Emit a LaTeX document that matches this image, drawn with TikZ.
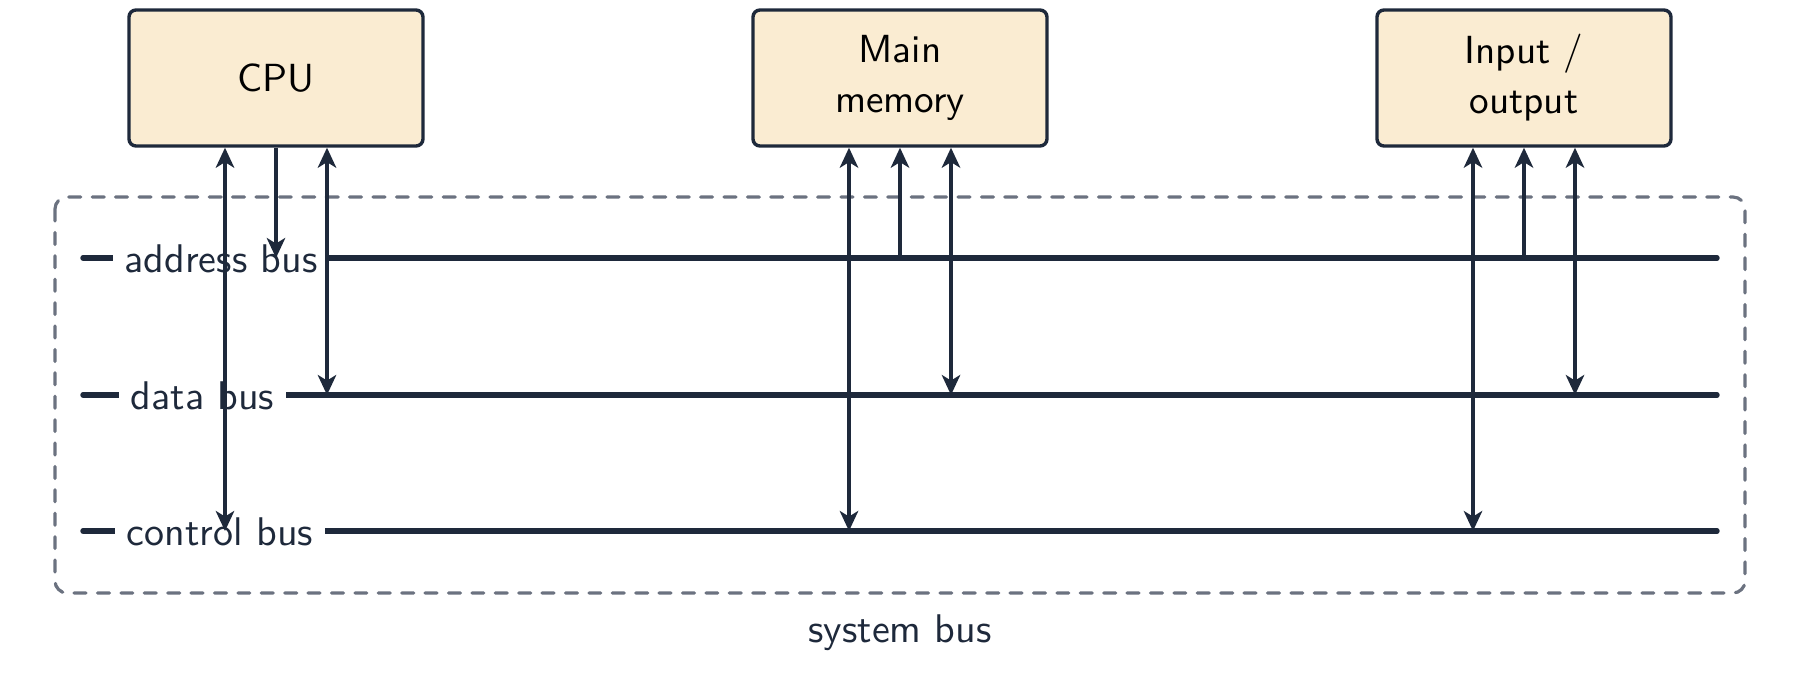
\documentclass[tikz,border=0pt]{standalone}
\usepackage{fontspec}
\usetikzlibrary{arrows.meta}

\definecolor{ink}{RGB}{30,41,59}
\definecolor{boxfill}{RGB}{250,236,210}
\definecolor{framegray}{RGB}{107,114,128}

\tikzset{every picture/.style={line width=0.75pt}}
\tikzset{
  unit/.style={draw=ink, fill=boxfill, rounded corners=1.75pt, line width=0.85pt,
    minimum width=73.5pt, minimum height=34pt, inner sep=0pt, align=center,
    text=black, font=\sffamily\fontsize{9.8}{12.5}\selectfont},
  busline/.style={draw=ink, line width=1.35pt, line cap=round},
  buslabel/.style={fill=white, inner sep=3pt, anchor=base, text=ink,
    font=\sffamily\fontsize{10}{12}\selectfont},
  link/.style={draw=ink, line width=0.9pt,
    >={Stealth[length=5pt,width=4.6pt,inset=1.4pt]}},
  sysframe/.style={draw=framegray, line width=0.8pt, line cap=round,
    dash pattern=on 3pt off 2.85pt, rounded corners=3pt}
}

\begin{document}
\begin{tikzpicture}[x=0.25pt,y=-0.25pt]
        \useasboundingbox (0,0) rectangle (1800,674);
        \draw[sysframe] (55,197) rectangle (1745,593);
        \node[buslabel] (sys) at (900,642) {system bus};

        % the three units
        \node[unit] (cpu) at (276,78) {CPU};
        \node[unit] (mem) at (900,78) {Main\\memory};
        \node[unit] (io) at (1524,78) {Input /\\output};

        % the buses
        \coordinate (addr) at (83,258);  \coordinate (addrend) at (1717,258);
        \coordinate (data) at (83,395);  \coordinate (dataend) at (1717,395);
        \coordinate (ctrl) at (83,531);  \coordinate (ctrlend) at (1717,531);
        \draw[busline] (addr) -- (addrend);
        \draw[busline] (data) -- (dataend);
        \draw[busline] (ctrl) -- (ctrlend);
        \node[buslabel] (addrlbl) at (221,272) {address bus};
        \node[buslabel] (datalbl) at (202.5,409) {data bus};
        \node[buslabel] (ctrllbl) at (220,545) {control bus};

        % CPU
        \draw[link,<->] ([xshift=-12.75pt]cpu.south) -- ([xshift=-12.75pt]cpu.south |- ctrl);
        \draw[link,->] (cpu.south) -- (cpu.south |- addr);
        \draw[link,<->] ([xshift=12.75pt]cpu.south) -- ([xshift=12.75pt]cpu.south |- data);
        % main memory
        \draw[link,<->] ([xshift=-12.75pt]mem.south) -- ([xshift=-12.75pt]mem.south |- ctrl);
        \draw[link,->] (mem.south |- addr) -- (mem.south);
        \draw[link,<->] ([xshift=12.75pt]mem.south) -- ([xshift=12.75pt]mem.south |- data);
        % input / output
        \draw[link,<->] ([xshift=-12.75pt]io.south) -- ([xshift=-12.75pt]io.south |- ctrl);
        \draw[link,->] (io.south |- addr) -- (io.south);
        \draw[link,<->] ([xshift=12.75pt]io.south) -- ([xshift=12.75pt]io.south |- data);
\end{tikzpicture}
\end{document}
